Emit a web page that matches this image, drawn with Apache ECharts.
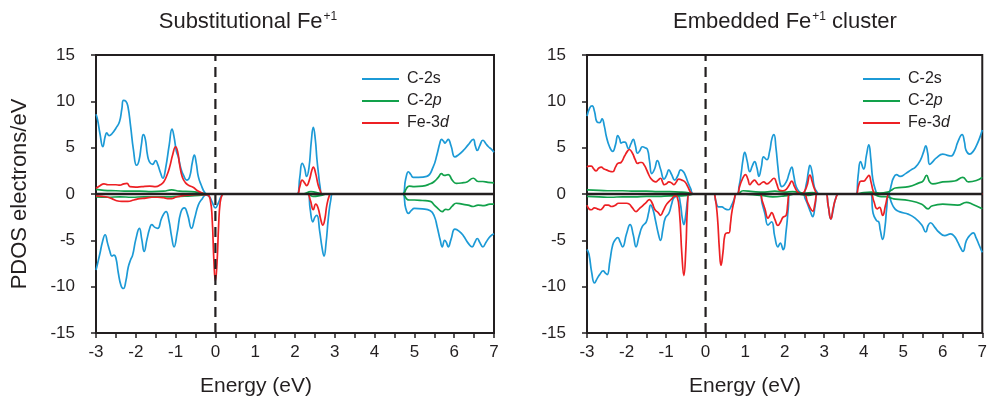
<!DOCTYPE html>
<html>
<head>
<meta charset="utf-8">
<script src="https://cdn.jsdelivr.net/npm/echarts@6/dist/echarts.min.js"></script>
<style>html,body{margin:0;padding:0;background:#fff}#c{width:990px;height:415px}</style>
</head>
<body>
<div id="c"></div>
<script>
// ---- Tick labels / categories ----
var energyTicks = [-3,-2,-1,0,1,2,3,4,5,6,7];
var pdosTicks = [-15,-10,-5,0,5,10,15];
var legendNames = ['C-2s','C-2p','Fe-3d'];
var panelTitles = ['Substitutional Fe', 'Embedded Fe'];

// ---- Left panel: Substitutional Fe+1 ----
var L_s_up = [[-3,8.6],[-2.96,8.0],[-2.9,6.5],[-2.83,5.1],[-2.77,6.2],[-2.73,6.6],[-2.67,6.3],[-2.6,6.5],[-2.5,7.1],[-2.41,7.8],[-2.35,9.2],[-2.31,10.1],[-2.25,10.0],[-2.2,9.5],[-2.13,7.3],[-2.06,4.8],[-1.98,3.1],[-1.92,3.6],[-1.86,5.3],[-1.81,6.4],[-1.76,5.9],[-1.71,4.3],[-1.66,3.5],[-1.58,3.2],[-1.5,3.6],[-1.45,3.2],[-1.38,2.3],[-1.32,1.7],[-1.25,2.8],[-1.16,5.3],[-1.09,7.0],[-1.04,6.2],[-0.98,4.6],[-0.93,4.0],[-0.87,2.8],[-0.8,2.0],[-0.72,1.5],[-0.65,1.8],[-0.58,3.4],[-0.53,4.2],[-0.48,3.3],[-0.43,1.9],[-0.36,1.0],[-0.26,0.1],[-0.2,0],[2.05,0],[2.12,1.8],[2.18,3.3],[2.24,2.8],[2.29,1.9],[2.35,2.8],[2.41,5.7],[2.46,7.2],[2.51,5.9],[2.55,3.8],[2.59,2.2],[2.63,0.8],[2.68,0],[4.7,0],[4.78,1.6],[4.85,2.4],[4.91,2.1],[4.97,1.8],[5.1,1.8],[5.31,1.9],[5.47,2.9],[5.57,4.3],[5.64,5.5],[5.68,5.9],[5.73,5.7],[5.77,5.5],[5.81,5.7],[5.85,5.9],[5.92,5.2],[6.02,4.0],[6.1,4.2],[6.23,4.7],[6.35,5.3],[6.48,5.9],[6.53,5.2],[6.58,4.7],[6.64,5.2],[6.72,5.8],[6.8,5.4],[6.86,5.1],[6.92,4.9],[7,4.5]];
var L_s_dn = [[-3,-8.2],[-2.96,-7.5],[-2.9,-6.4],[-2.84,-5.2],[-2.77,-4.4],[-2.71,-5.3],[-2.65,-6.2],[-2.6,-6.7],[-2.55,-6.6],[-2.5,-6.9],[-2.44,-8.5],[-2.37,-9.9],[-2.31,-10.2],[-2.25,-9.4],[-2.19,-7.9],[-2.13,-7.1],[-2.08,-6.6],[-2.0,-4.9],[-1.91,-3.7],[-1.85,-4.9],[-1.79,-6.2],[-1.72,-4.9],[-1.65,-3.7],[-1.6,-3.3],[-1.52,-3.6],[-1.45,-3.7],[-1.35,-2.6],[-1.24,-1.9],[-1.17,-2.8],[-1.1,-4.6],[-1.04,-5.7],[-0.96,-4.2],[-0.87,-2.0],[-0.78,-1.5],[-0.7,-2.2],[-0.6,-3.7],[-0.52,-2.6],[-0.43,-1.2],[-0.33,-0.5],[-0.24,-0.1],[-0.15,-0.3],[-0.08,-0.9],[0,-1.5],[0.07,-1.0],[0.14,-0.3],[0.2,0],[2.33,0],[2.38,-1.6],[2.45,-3.0],[2.5,-2.5],[2.55,-2.3],[2.62,-4.0],[2.68,-5.8],[2.73,-6.7],[2.78,-5.3],[2.84,-2.5],[2.9,-0.6],[2.95,0],[4.7,0],[4.78,-1.5],[4.85,-2.1],[4.92,-1.8],[5.0,-1.55],[5.2,-1.6],[5.4,-1.8],[5.5,-2.4],[5.57,-3.5],[5.65,-5.0],[5.7,-5.7],[5.76,-5.0],[5.8,-5.2],[5.85,-5.7],[5.92,-4.9],[6.02,-3.8],[6.12,-4.0],[6.23,-4.5],[6.35,-5.3],[6.45,-5.7],[6.52,-5.2],[6.58,-4.8],[6.64,-5.2],[6.72,-5.7],[6.8,-5.2],[6.9,-4.6],[7,-4.3]];
var L_p_up = [[-3,0.5],[-2.8,0.4],[-2.5,0.35],[-2.2,0.3],[-1.9,0.3],[-1.6,0.25],[-1.3,0.3],[-1.1,0.45],[-0.9,0.3],[-0.6,0.25],[-0.4,0.15],[-0.2,0],[2.2,0],[2.4,0.25],[2.6,0.1],[2.7,0],[4.7,0],[4.8,0.6],[4.87,0.86],[5.0,0.8],[5.2,0.85],[5.4,1.1],[5.5,1.35],[5.6,1.8],[5.68,2.2],[5.75,2.0],[5.85,2.1],[5.95,1.5],[6.05,1.15],[6.2,1.2],[6.32,1.3],[6.48,1.7],[6.6,1.35],[6.72,1.35],[6.85,1.25],[7,1.2]];
var L_p_dn = [[-3,-0.3],[-2.7,-0.35],[-2.4,-0.3],[-2.1,-0.35],[-1.8,-0.3],[-1.5,-0.3],[-1.2,-0.3],[-0.9,-0.25],[-0.6,-0.2],[-0.3,-0.1],[-0.2,0],[2.3,0],[2.45,-0.25],[2.65,-0.15],[2.8,0],[4.7,0],[4.8,-0.5],[4.87,-0.65],[5.0,-0.65],[5.2,-0.7],[5.4,-0.8],[5.5,-1.2],[5.6,-1.6],[5.7,-1.9],[5.78,-1.65],[5.85,-1.7],[5.95,-1.3],[6.05,-1.0],[6.2,-1.1],[6.35,-1.2],[6.48,-1.35],[6.6,-1.2],[6.75,-1.25],[6.9,-1.1],[7,-1.1]];
var L_d_up = [[-3,0.6],[-2.9,0.9],[-2.8,1.1],[-2.7,1.0],[-2.6,1.0],[-2.5,1.0],[-2.4,0.95],[-2.3,1.1],[-2.22,1.15],[-2.15,0.8],[-2.0,0.75],[-1.85,0.8],[-1.65,0.85],[-1.5,0.8],[-1.38,1.0],[-1.3,1.3],[-1.22,2.0],[-1.15,2.9],[-1.07,4.3],[-1.0,5.1],[-0.95,4.6],[-0.9,3.2],[-0.83,1.8],[-0.75,1.2],[-0.65,0.9],[-0.55,0.7],[-0.45,0.35],[-0.3,0.05],[-0.25,0],[2.05,0],[2.12,0.8],[2.18,1.5],[2.24,1.2],[2.29,0.9],[2.36,1.5],[2.42,2.5],[2.46,2.9],[2.52,2.2],[2.58,1.0],[2.64,0.3],[2.68,0],[7,0]];
var L_d_dn = [[-3,-0.2],[-2.85,-0.25],[-2.7,-0.35],[-2.6,-0.5],[-2.5,-0.7],[-2.35,-0.8],[-2.2,-0.8],[-2.05,-0.65],[-1.9,-0.5],[-1.75,-0.45],[-1.6,-0.35],[-1.45,-0.35],[-1.3,-0.4],[-1.2,-0.5],[-1.1,-0.5],[-1.0,-0.35],[-0.85,-0.2],[-0.6,-0.1],[-0.4,-0.05],[-0.2,-0.1],[-0.13,-0.6],[-0.08,-2.8],[-0.04,-7.0],[0,-9.4],[0.04,-7.5],[0.08,-3.5],[0.12,-0.9],[0.17,-0.1],[0.22,0],[2.3,0],[2.38,-0.6],[2.46,-1.7],[2.52,-1.1],[2.58,-1.5],[2.65,-2.8],[2.7,-3.35],[2.75,-2.7],[2.8,-1.2],[2.86,-0.2],[2.9,0],[7,0]];

// ---- Right panel: Embedded Fe+1 cluster ----
var R_s_up = [[-3,8.4],[-2.93,9.3],[-2.87,9.5],[-2.81,8.9],[-2.75,7.8],[-2.68,7.7],[-2.62,8.1],[-2.56,7.3],[-2.51,6.2],[-2.43,5.1],[-2.35,4.6],[-2.28,5.3],[-2.22,6.3],[-2.17,5.9],[-2.14,5.5],[-2.08,5.6],[-2.04,5.6],[-1.95,4.9],[-1.89,5.4],[-1.83,5.9],[-1.78,5.3],[-1.72,4.4],[-1.66,4.7],[-1.6,5.1],[-1.53,5.0],[-1.47,4.8],[-1.42,3.6],[-1.36,2.2],[-1.29,2.7],[-1.22,3.6],[-1.14,2.7],[-1.05,1.6],[-0.99,2.0],[-0.93,2.6],[-0.86,2.1],[-0.78,1.5],[-0.7,2.0],[-0.63,2.6],[-0.57,2.45],[-0.52,2.1],[-0.45,1.3],[-0.38,0.6],[-0.3,0],[0.79,0],[0.85,0.9],[0.9,2.2],[0.95,3.8],[0.99,4.5],[1.05,3.6],[1.12,2.4],[1.18,3.0],[1.24,3.5],[1.3,2.8],[1.35,1.9],[1.41,2.9],[1.47,4.0],[1.55,3.7],[1.62,4.6],[1.68,6.0],[1.73,6.4],[1.78,5.0],[1.83,2.9],[1.88,1.2],[1.93,0.8],[2.04,1.3],[2.12,2.3],[2.18,2.9],[2.23,2.0],[2.29,0.8],[2.38,0.2],[2.46,0],[2.55,1.1],[2.6,2.4],[2.64,3.1],[2.7,2.2],[2.75,0.8],[2.82,0.2],[2.87,0],[3.8,0],[3.86,2.0],[3.92,3.5],[4.0,2.7],[4.07,4.2],[4.13,5.3],[4.18,3.8],[4.23,1.6],[4.3,0.4],[4.36,0],[4.6,0],[4.65,0.2],[4.7,1.0],[4.75,1.7],[4.83,2.1],[4.92,1.9],[5.06,2.2],[5.2,2.6],[5.31,2.9],[5.43,3.6],[5.52,4.6],[5.57,5.2],[5.62,4.4],[5.67,3.2],[5.75,3.5],[5.84,3.9],[6.0,4.3],[6.1,4.2],[6.21,4.1],[6.3,4.6],[6.38,5.6],[6.49,6.4],[6.55,5.6],[6.59,4.7],[6.68,4.3],[6.77,4.6],[6.85,5.2],[6.93,6.0],[7,6.9]];
var R_s_dn = [[-3,-6.0],[-2.95,-6.5],[-2.88,-8.5],[-2.81,-9.6],[-2.74,-9.1],[-2.68,-8.7],[-2.59,-8.3],[-2.54,-8.5],[-2.49,-8.7],[-2.42,-7.2],[-2.35,-5.5],[-2.28,-4.9],[-2.22,-4.7],[-2.16,-5.2],[-2.1,-5.7],[-2.0,-4.3],[-1.91,-3.3],[-1.83,-4.4],[-1.76,-5.7],[-1.68,-4.5],[-1.6,-3.5],[-1.5,-3.0],[-1.44,-2.0],[-1.39,-1.2],[-1.33,-1.7],[-1.27,-2.8],[-1.2,-4.2],[-1.14,-5.0],[-1.08,-3.8],[-1.02,-2.6],[-0.93,-2.1],[-0.86,-1.1],[-0.8,-0.4],[-0.7,-0.2],[-0.64,-1.0],[-0.59,-2.6],[-0.55,-3.3],[-0.5,-2.2],[-0.46,-0.8],[-0.42,0],[0.2,0],[0.26,-0.8],[0.33,-1.4],[0.41,-1.4],[0.49,-1.6],[0.58,-1.7],[0.66,-1.2],[0.73,-0.5],[0.79,0],[1.37,0],[1.43,-1.0],[1.5,-2.1],[1.58,-3.35],[1.67,-3.0],[1.75,-4.6],[1.83,-5.7],[1.89,-5.3],[1.96,-6.0],[2.04,-3.9],[2.09,-1.6],[2.13,0],[2.46,0],[2.52,-0.5],[2.58,-1.1],[2.66,-2.0],[2.71,-2.45],[2.77,-1.3],[2.83,0],[3.04,0],[3.1,-1.2],[3.17,-2.7],[3.22,-1.9],[3.29,-0.5],[3.37,0],[4.17,0],[4.24,-2.1],[4.33,-2.9],[4.38,-3.0],[4.42,-3.9],[4.48,-4.9],[4.54,-3.5],[4.58,-1.6],[4.63,0],[4.7,-0.9],[4.79,-1.6],[4.9,-1.9],[5.14,-2.2],[5.3,-2.6],[5.47,-3.35],[5.57,-4.1],[5.63,-3.4],[5.69,-3.1],[5.8,-3.6],[5.9,-4.1],[6.05,-4.5],[6.2,-4.3],[6.3,-4.6],[6.38,-5.2],[6.45,-5.8],[6.51,-6.2],[6.6,-5.0],[6.7,-4.4],[6.77,-4.2],[6.85,-4.8],[6.92,-5.5],[7,-6.3]];
var R_p_up = [[-3,0.45],[-2.7,0.4],[-2.4,0.35],[-2.1,0.35],[-1.8,0.3],[-1.5,0.3],[-1.2,0.25],[-0.9,0.25],[-0.6,0.2],[-0.4,0.1],[-0.3,0],[0.8,0],[0.95,0.35],[1.2,0.25],[1.5,0.2],[1.75,0.3],[2.0,0.2],[2.2,0.25],[2.5,0.1],[2.7,0.15],[2.9,0],[3.8,0],[4.0,0.15],[4.2,0.2],[4.4,0.1],[4.6,0.2],[4.7,0.4],[4.8,0.65],[5.14,0.8],[5.4,1.2],[5.5,1.4],[5.59,2.0],[5.67,1.3],[5.75,1.1],[6.0,1.3],[6.3,1.4],[6.51,1.8],[6.65,1.3],[6.85,1.45],[7,1.8]];
var R_p_dn = [[-3,-0.25],[-2.7,-0.3],[-2.4,-0.35],[-2.1,-0.3],[-1.8,-0.3],[-1.5,-0.25],[-1.2,-0.25],[-0.9,-0.2],[-0.6,-0.2],[-0.4,-0.1],[-0.3,0],[0.8,0],[1.4,-0.15],[1.7,-0.3],[2.0,-0.2],[2.3,0],[2.6,-0.15],[2.8,0],[4.2,0],[4.4,-0.25],[4.6,-0.3],[4.7,-0.45],[4.8,-0.55],[5.14,-0.7],[5.47,-1.1],[5.63,-1.6],[5.72,-1.3],[6.0,-1.1],[6.38,-1.2],[6.6,-0.9],[6.75,-1.1],[7,-1.6]];
var R_d_up = [[-3,2.9],[-2.95,3.0],[-2.89,3.0],[-2.83,2.7],[-2.77,2.5],[-2.7,2.8],[-2.64,2.9],[-2.57,2.7],[-2.51,2.6],[-2.43,2.45],[-2.35,2.4],[-2.28,2.9],[-2.22,3.3],[-2.14,3.4],[-2.05,4.1],[-1.98,4.6],[-1.93,4.8],[-1.85,4.4],[-1.78,3.7],[-1.72,3.3],[-1.66,3.4],[-1.61,3.4],[-1.55,3.1],[-1.51,2.8],[-1.45,2.2],[-1.39,1.7],[-1.32,1.4],[-1.26,1.3],[-1.2,1.5],[-1.14,1.7],[-1.08,1.2],[-1.05,1.0],[-0.99,1.1],[-0.93,1.3],[-0.86,1.2],[-0.8,1.0],[-0.74,1.3],[-0.68,1.6],[-0.6,1.5],[-0.52,1.3],[-0.45,0.8],[-0.38,0.2],[-0.32,0],[0.79,0],[0.86,0.8],[0.92,1.5],[1.01,2.1],[1.07,1.6],[1.12,1.0],[1.18,1.3],[1.24,1.5],[1.3,1.2],[1.35,1.0],[1.42,1.2],[1.47,1.3],[1.55,1.1],[1.63,1.3],[1.73,1.7],[1.8,1.1],[1.87,0.4],[1.95,0.35],[2.04,0.5],[2.12,1.0],[2.18,1.4],[2.25,0.8],[2.33,0.2],[2.42,0],[2.55,0.7],[2.64,2.05],[2.7,1.3],[2.76,0.5],[2.85,0],[3.8,0],[3.87,0.9],[3.93,1.4],[4.0,1.4],[4.07,1.7],[4.13,2.0],[4.19,1.2],[4.25,0.2],[4.3,0],[7,0]];
var R_d_dn = [[-3,-1.2],[-2.95,-1.6],[-2.89,-1.7],[-2.81,-1.5],[-2.74,-1.6],[-2.66,-1.7],[-2.6,-1.5],[-2.54,-1.2],[-2.46,-1.2],[-2.38,-1.35],[-2.3,-1.25],[-2.2,-1.0],[-2.1,-1.0],[-2.0,-1.0],[-1.93,-1.1],[-1.85,-1.5],[-1.76,-1.9],[-1.68,-1.6],[-1.6,-1.3],[-1.5,-0.9],[-1.42,-0.6],[-1.35,-1.0],[-1.28,-1.7],[-1.2,-2.0],[-1.14,-2.3],[-1.07,-1.8],[-1.0,-1.2],[-0.92,-0.8],[-0.85,-0.5],[-0.78,-0.2],[-0.72,-0.3],[-0.66,-2.0],[-0.6,-6.5],[-0.55,-8.8],[-0.5,-6.0],[-0.46,-1.5],[-0.42,0],[0.2,0],[0.24,-0.3],[0.3,-2.5],[0.35,-6.0],[0.39,-7.7],[0.44,-6.3],[0.49,-4.4],[0.55,-4.2],[0.59,-4.2],[0.63,-3.2],[0.66,-2.1],[0.72,-0.8],[0.79,0],[1.37,0],[1.43,-0.7],[1.5,-1.6],[1.58,-2.6],[1.63,-2.3],[1.67,-2.0],[1.75,-2.7],[1.83,-3.4],[1.9,-3.0],[1.96,-2.5],[2.04,-2.3],[2.08,-1.0],[2.12,0],[2.48,0],[2.58,-0.9],[2.66,-1.6],[2.71,-1.85],[2.77,-1.0],[2.83,0],[3.04,0],[3.1,-1.2],[3.17,-2.7],[3.23,-1.5],[3.3,-0.4],[3.37,0],[4.17,0],[4.25,-0.7],[4.34,-1.6],[4.4,-1.45],[4.48,-2.3],[4.55,-1.25],[4.6,-0.3],[4.63,0],[7,0]];

// ---- Reference lines ----
var fermiLine = [[0,-15],[0,15]];
var zeroLine = [[-3,0],[7,0]];

var FONT = 'Liberation Sans, Arial, sans-serif';
var INK = '#231f20';
var COLORS = {'C-2s':'#1c9ad6','C-2p':'#12a14b','Fe-3d':'#ed2024'};

function curve(name, data, idx, z) {
  return {type:'line', name:name, data:data, xAxisIndex:idx, yAxisIndex:idx,
    symbol:'none', showSymbol:false, smooth:0.5, silent:true,
    color:COLORS[name], lineStyle:{color:COLORS[name], width:1.7}, z:z||2};
}
function ref(data, idx, dashed, width) {
  return {type:'line', data:data, xAxisIndex:idx, yAxisIndex:idx, symbol:'none', silent:true,
    lineStyle:{color:INK, width:width, type: dashed ? [10,6] : 'solid'}, z:6};
}

var series = [
  curve('C-2s', L_s_up, 0), curve('C-2s', L_s_dn, 0),
  curve('C-2p', L_p_up, 0), curve('C-2p', L_p_dn, 0),
  curve('Fe-3d', L_d_up, 0, 3), curve('Fe-3d', L_d_dn, 0, 3),
  curve('C-2s', R_s_up, 1), curve('C-2s', R_s_dn, 1),
  curve('C-2p', R_p_up, 1), curve('C-2p', R_p_dn, 1),
  curve('Fe-3d', R_d_up, 1, 3), curve('Fe-3d', R_d_dn, 1, 3),
  ref(fermiLine, 0, true, 2.2), ref(zeroLine, 0, false, 2.5),
  ref(fermiLine, 1, true, 2.2), ref(zeroLine, 1, false, 2.5)
];

function xAx(idx) {
  return {type:'value', gridIndex:idx, min:energyTicks[0], max:energyTicks[energyTicks.length-1], interval:1,
    axisLine:{show:true, onZero:false, lineStyle:{color:INK, width:2}},
    axisTick:{show:true, inside:false, length:5, lineStyle:{color:INK, width:1.5}},
    minorTick:{show:true, splitNumber:2, length:5, lineStyle:{color:INK, width:1.5}},
    splitLine:{show:false},
    axisLabel:{fontFamily:FONT, fontSize:17, color:INK, margin:11}};
}
function yAx(idx) {
  return {type:'value', gridIndex:idx, min:pdosTicks[0], max:pdosTicks[pdosTicks.length-1], interval:5,
    axisLine:{show:true, onZero:false, lineStyle:{color:INK, width:2}},
    axisTick:{show:true, inside:false, length:5, lineStyle:{color:INK, width:1.5}},
    splitLine:{show:false},
    axisLabel:{fontFamily:FONT, fontSize:17, color:INK, margin:21}};
}
function legendFmt(name) {
  if (name === 'C-2p') return '{n|C-2}{i|p}';
  if (name === 'Fe-3d') return '{n|Fe-3}{i|d}';
  return '{n|' + name + '}';
}
function legend(left) {
  return {data:legendNames, left:left, top:66, orient:'vertical', icon:'rect', itemWidth:37, itemHeight:2,
    itemGap:6, selectedMode:false, formatter:legendFmt,
    textStyle:{color:INK, fontFamily:FONT, fontSize:16, padding:[0,0,0,3],
      rich:{n:{fontFamily:FONT, fontSize:16, color:INK, lineHeight:17},
            i:{fontFamily:FONT, fontSize:16, color:INK, fontStyle:'italic', lineHeight:17}}}};
}
function txt(x, y, text, rich, rot, size) {
  return {type:'text', x:x, y:y, rotation:rot||0, silent:true,
    style:{text:text, fill:INK, font:(size||21) + 'px ' + FONT, textAlign:'center', textVerticalAlign:'middle', rich:rich}};
}
var titleRich = {a:{fontFamily:FONT, fontSize:22, fill:INK, color:INK},
                 s:{fontFamily:FONT, fontSize:12, fill:INK, color:INK, verticalAlign:'top', padding:[0,0,9,1]}};

var chart = echarts.init(document.getElementById('c'), null, {renderer:'canvas'});
chart.setOption({
  animation:false,
  backgroundColor:'#ffffff',
  grid:[
    {left:96, top:55, width:398, height:278, show:true, borderColor:INK, borderWidth:2, containLabel:false},
    {left:587, top:55, width:399, height:278, show:true, borderColor:INK, borderWidth:2, containLabel:false}
  ],
  xAxis:[xAx(0), xAx(1)],
  yAxis:[yAx(0), yAx(1)],
  legend:[legend(357), legend(858)],
  series:series,
  graphic:[
    txt(248, 22, '{a|' + panelTitles[0] + '}{s|+1}', titleRich),
    txt(785, 22, '{a|' + panelTitles[1] + '}{s|+1}{a| cluster}', titleRich),
    txt(20, 194, 'PDOS electrons/eV', null, Math.PI/2, 22),
    txt(256, 386, 'Energy (eV)'),
    txt(745, 386, 'Energy (eV)')
  ]
});
</script>
</body>
</html>
